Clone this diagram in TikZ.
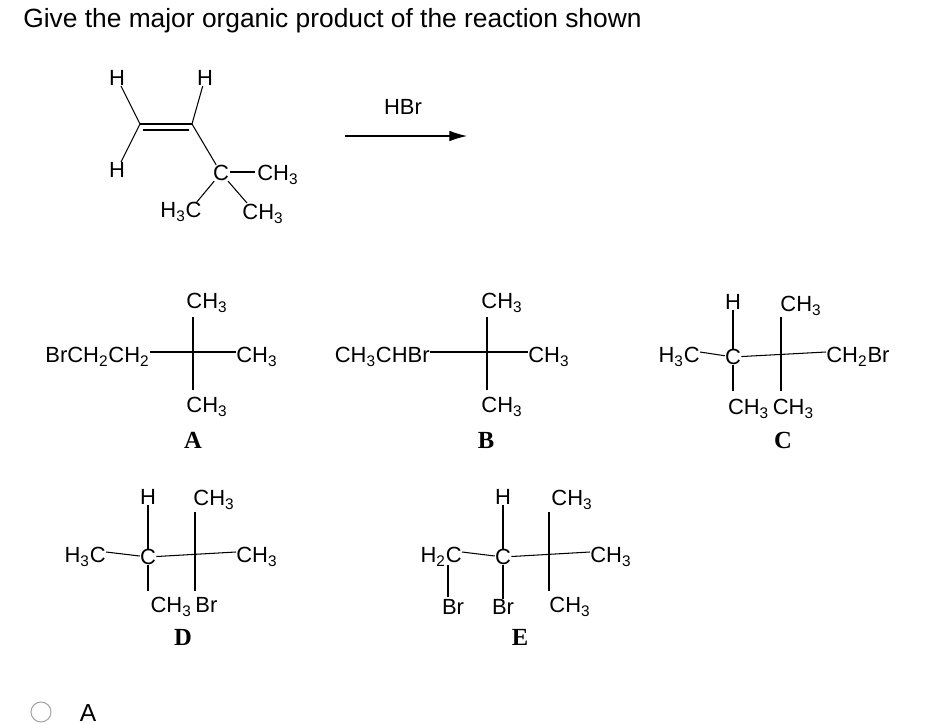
\documentclass[tikz,border=0pt]{standalone}
\usepackage{fontspec}
\usetikzlibrary{arrows.meta}
\setmainfont{Liberation Sans}
\newfontfamily\lblfont{Liberation Serif}
\newcommand\chs[1]{\textsubscript{#1}}
\begin{document}
\begin{tikzpicture}[x=0.02cm,y=-0.02cm,
  t/.style={inner sep=0pt,font=\fontsize{12.5}{14}\selectfont},
  lbl/.style={inner sep=0pt,font=\lblfont\bfseries\fontsize{14}{16}\selectfont},
  bond/.style={line width=0.6pt}]
\useasboundingbox (0,0) rectangle (938,724);
\node[anchor=west,inner sep=0pt,font=\fontsize{15}{17}\selectfont] (title) at (23,21) {Give the major organic product of the reaction shown};
% starting material
\node[t] (h1) at (117,78) {H};
\node[t] (h2) at (205,78) {H};
\node[t] (h3) at (117,170) {H};
\coordinate (d1) at (140,124); \coordinate (d2) at (192,124);
\draw[bond] (h1) -- (d1) -- (h3);
\draw[bond] (d1) -- (d2);
\draw[bond] (143,130) -- (189,130);
\draw[bond] (h2) -- (d2);
\node[t] (c0) at (221,173) {C};
\draw[bond] (d2) -- (c0);
\node[t,anchor=west] (cm) at (257,175) {CH\chs3};
\draw[bond] (c0.east) ++(1,-1) -- (255,172);
\node[t] (hl) at (181,212) {H\chs3C};
\node[t] (hr) at (263,214) {CH\chs3};
\draw[bond] (c0) -- (196,203);
\draw[bond] (c0) -- (247,203);
% arrow
\node[t] (hbr) at (403,107) {HBr};
\coordinate (a1) at (345,136); \coordinate (a2) at (467,136);
\draw[bond,-{Latex[length=10pt,width=6pt]}] (a1) -- (a2);
% A
\node[t] (at) at (207,303) {CH\chs3};
\node[t] (ab) at (207,407) {CH\chs3};
\node[t,anchor=east] (al) at (150,357) {BrCH\chs2CH\chs2};
\node[t,anchor=west] (ar) at (236,357) {CH\chs3};
\draw[bond] (193,317) -- (193,390);
\draw[bond] (150,352) -- (236,352);
\node[lbl] (la) at (193,440) {A};
% B
\node[t] (bt) at (502,303) {CH\chs3};
\node[t] (bb) at (502,407) {CH\chs3};
\node[t,anchor=east] (bl) at (430,357) {CH\chs3CHBr};
\node[t,anchor=west] (br) at (528,357) {CH\chs3};
\draw[bond] (487,317) -- (487,390);
\draw[bond] (430,352) -- (528,352);
\node[lbl] (lb) at (486,440) {B};
% C
\node[t] (ch) at (733,302) {H};
\node[t] (cc3) at (801,306) {CH\chs3};
\node[t,anchor=east] (cl) at (700,357) {H\chs3C};
\node[t] (cc) at (733,357) {C};
\node[t,anchor=west] (cr) at (826,357) {CH\chs2Br};
\node[t] (cb) at (771,409) {CH\chs3\,CH\chs3};
\draw[bond] (700,352) -- (cc);
\draw[bond] (cc) -- (826,352);
\draw[bond] (ch) -- (cc);
\draw[bond] (cc) -- (733,391);
\draw[bond] (781,317) -- (781,391);
\node[lbl] (lc) at (783,440) {C};
% D
\node[t] (dh) at (148,497) {H};
\node[t] (dc3) at (214,500) {CH\chs3};
\node[t,anchor=east] (dl) at (106,557) {H\chs3C};
\node[t] (dc) at (148,557) {C};
\node[t,anchor=west] (dr) at (236,557) {CH\chs3};
\node[t] (db) at (184,607) {CH\chs3\,Br};
\draw[bond] (106,552) -- (dc);
\draw[bond] (dc) -- (236,552);
\draw[bond] (dh) -- (dc);
\draw[bond] (dc) -- (148,591);
\draw[bond] (195,512) -- (195,591);
\node[lbl] (ld) at (183,637) {D};
% E
\node[t] (eh) at (503,497) {H};
\node[t] (ec3) at (572,500) {CH\chs3};
\node[t,anchor=east] (el) at (462,557) {H\chs2C};
\node[t] (ec) at (503,557) {C};
\node[t,anchor=west] (er) at (590,557) {CH\chs3};
\node[t] (ebr1) at (453,607) {Br};
\node[t] (ebr2) at (503,607) {Br};
\node[t] (ecb) at (570,607) {CH\chs3};
\draw[bond] (462,552) -- (ec);
\draw[bond] (ec) -- (590,552);
\draw[bond] (eh) -- (ec);
\draw[bond] (ec) -- (ebr2);
\draw[bond] (448,565) -- (448,597);
\draw[bond] (549,512) -- (549,591);
\node[lbl] (le) at (520,637) {E};
% answer option
\draw[gray!70,line width=0.6pt] (41,712) circle (10);
\node[inner sep=0pt,font=\fontsize{14}{16}\selectfont] (oa) at (88,713) {A};
\end{tikzpicture}
\end{document}
